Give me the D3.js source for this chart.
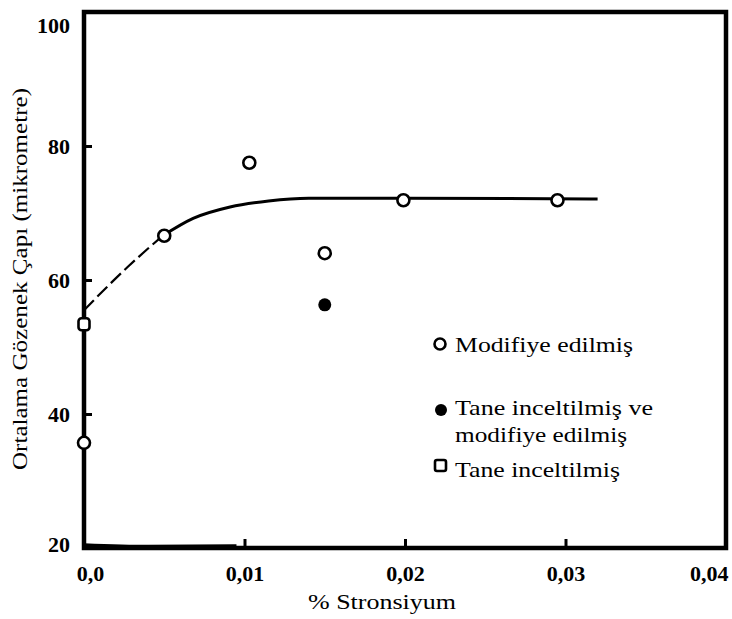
<!DOCTYPE html>
<html>
<head>
<meta charset="utf-8">
<script src="https://cdn.jsdelivr.net/npm/d3@7"></script>
<style>
  html, body { margin: 0; padding: 0; background: #fff; }
  svg { display: block; }
  text { font-family: "Liberation Serif", "Times New Roman", "DejaVu Serif", serif; fill: #000; }
</style>
</head>
<body>
<svg id="chart" width="732" height="619"></svg>
<script>
// ---- data ----
const xTicks = [0, 0.01, 0.02, 0.03, 0.04];
const xTickLabels = ["0,0", "0,01", "0,02", "0,03", "0,04"];
const yTicks = [20, 40, 60, 80, 100];

// Modifiye edilmiş (open circles)
const modifiedX = [0, 0.005, 0.0103, 0.015, 0.0199, 0.0295];
const modifiedY = [35.7, 66.6, 77.5, 64.0, 71.9, 71.9];

// Tane inceltilmiş ve modifiye edilmiş (filled circle)
const refinedModX = [0.015];
const refinedModY = [56.3];

// Tane inceltilmiş (open square)
const refinedX = [0];
const refinedY = [53.4];

// fitted curve
const curveX = [0, 0.0027, 0.0049, 0.0068, 0.0091, 0.0115, 0.014, 0.02, 0.032];
const curveY = [55.5, 61.9, 66.6, 69.2, 70.9, 71.8, 72.2, 72.2, 72.1];
const dashedUntil = 0.0049;

// trace along bottom axis
const traceX = [0, 0.004, 0.0095];
const traceY = [20.5, 20.25, 20.35];

const legendLabels = [["Modifiye edilmiş"], ["Tane inceltilmiş ve", "modifiye edilmiş"], ["Tane inceltilmiş"]];

// ---- layout ----
const svg = d3.select("#chart");
const L = 84, R = 726, T = 12, B = 548;

const x = d3.scaleLinear().domain([0, 0.04]).range([L, R]);
const y = d3.scaleLinear().domain([20, 100]).range([B, T]);

// y axis (ticks inward)
const yAxis = svg.append("g").attr("transform", `translate(${L},0)`)
  .call(d3.axisLeft(y).tickValues(yTicks).tickSizeInner(-8).tickSizeOuter(0).tickPadding(14)
    .tickFormat(d3.format("d")));
yAxis.select(".domain").remove();
yAxis.selectAll(".tick line").attr("stroke", "#000").attr("stroke-width", 3)
  .filter(d => d === 20 || d === 100).remove();
yAxis.selectAll(".tick text").style("font-size", "22px").style("font-weight", "bold")
  .attr("fill", "#000")
  .attr("dy", d => d === 100 ? "0.95em" : (d === 20 ? "0.15em" : "0.32em"));

// x axis (ticks inward)
const xAxis = svg.append("g").attr("transform", `translate(0,${B})`)
  .call(d3.axisBottom(x).tickValues(xTicks).tickSizeInner(-9).tickSizeOuter(0).tickPadding(17)
    .tickFormat((d, i) => xTickLabels[i]));
xAxis.select(".domain").remove();
xAxis.selectAll(".tick line").attr("stroke", "#000").attr("stroke-width", 3)
  .filter(d => d === 0 || d === 0.04).remove();
xAxis.selectAll(".tick text").style("font-size", "22px").style("font-weight", "bold")
  .attr("fill", "#000")
  .attr("text-anchor", (d, i) => i === xTicks.length - 1 ? "end" : "middle")
  .attr("dx", (d, i) => i === 0 ? 6 : (i === xTicks.length - 1 ? 2 : 0));

// frame
svg.append("rect").attr("x", L).attr("y", T).attr("width", R - L).attr("height", B - T)
  .attr("fill", "none").attr("stroke", "#000").attr("stroke-width", 4.5);

// bottom trace
const traceData = traceX.map((v, i) => [v, traceY[i]]);
svg.append("path").datum(traceData)
  .attr("d", d3.line().x(d => x(d[0])).y(d => y(d[1])).curve(d3.curveMonotoneX))
  .attr("fill", "none").attr("stroke", "#000").attr("stroke-width", 3);

// curve
const curveData = curveX.map((v, i) => [v, curveY[i]]);
const line = d3.line().x(d => x(d[0])).y(d => y(d[1])).curve(d3.curveMonotoneX);
svg.append("path").datum(curveData.filter(d => d[0] <= dashedUntil))
  .attr("d", line).attr("fill", "none").attr("stroke", "#000").attr("stroke-width", 2.2)
  .attr("stroke-dasharray", "14,5");
svg.append("path").datum(curveData.filter(d => d[0] >= dashedUntil))
  .attr("d", line).attr("fill", "none").attr("stroke", "#000").attr("stroke-width", 3);

// markers
const mod = modifiedX.map((v, i) => [v, modifiedY[i]]);
svg.append("g").selectAll("circle").data(mod).join("circle")
  .attr("cx", d => x(d[0])).attr("cy", d => y(d[1])).attr("r", 6)
  .attr("fill", "#fff").attr("stroke", "#000").attr("stroke-width", 2.6);

const rm = refinedModX.map((v, i) => [v, refinedModY[i]]);
svg.append("g").selectAll("circle").data(rm).join("circle")
  .attr("cx", d => x(d[0])).attr("cy", d => y(d[1])).attr("r", 6.5)
  .attr("fill", "#000");

const rf = refinedX.map((v, i) => [v, refinedY[i]]);
svg.append("g").selectAll("rect").data(rf).join("rect")
  .attr("x", d => x(d[0]) - 5.5).attr("y", d => y(d[1]) - 6).attr("width", 11).attr("height", 12)
  .attr("rx", 3).attr("fill", "#fff").attr("stroke", "#000").attr("stroke-width", 2.6);

// legend
const lg = svg.append("g");
lg.append("circle").attr("cx", 440).attr("cy", 344).attr("r", 5.5)
  .attr("fill", "#fff").attr("stroke", "#000").attr("stroke-width", 2.6);
lg.append("circle").attr("cx", 441).attr("cy", 410).attr("r", 6).attr("fill", "#000");
lg.append("rect").attr("x", 435).attr("y", 460).attr("width", 11).attr("height", 11).attr("rx", 2)
  .attr("fill", "#fff").attr("stroke", "#000").attr("stroke-width", 2.6);

const legendRows = [
  {text: legendLabels[0][0], y: 352, w: 178},
  {text: legendLabels[1][0], y: 415, w: 198},
  {text: legendLabels[1][1], y: 442, w: 172},
  {text: legendLabels[2][0], y: 477, w: 165}
];
legendRows.forEach(r => {
  lg.append("text").attr("x", 455).attr("y", r.y).text(r.text)
    .style("font-size", "22px")
    .attr("textLength", r.w).attr("lengthAdjust", "spacingAndGlyphs");
});

// axis titles
svg.append("text").attr("x", 308).attr("y", 609).text("% Stronsiyum")
  .style("font-size", "21px").attr("textLength", 148).attr("lengthAdjust", "spacingAndGlyphs");

svg.append("text").attr("transform", "translate(27,279) rotate(-90)")
  .attr("text-anchor", "middle").text("Ortalama Gözenek Çapı (mikrometre)")
  .style("font-size", "20px").attr("textLength", 382).attr("lengthAdjust", "spacingAndGlyphs");
</script>
</body>
</html>
